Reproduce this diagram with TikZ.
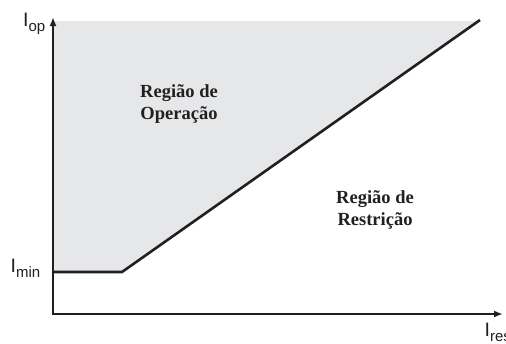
\documentclass[tikz,border=0pt]{standalone}
\usepackage{fontspec}
\setmainfont{Liberation Serif}
\newfontfamily\axfont{Liberation Sans}
\usetikzlibrary{arrows.meta}
\definecolor{regiongray}{HTML}{E6E7E8}
\definecolor{inkdark}{HTML}{231F20}
\newcommand{\axsub}[1]{\raisebox{-5.5pt}{\fontsize{15}{15}\selectfont #1}}
\begin{document}
\begin{tikzpicture}[x=1pt,y=-1pt,
  axisline/.style={line width=2.6pt,draw=inkdark,-{Latex[length=9pt,width=7pt]}},
  curveline/.style={line width=2.6pt,draw=inkdark,line join=miter},
  axlabel/.style={font=\axfont\fontsize{19.5}{22}\selectfont,inner sep=0pt,text=inkdark},
  regionlabel/.style={font=\bfseries\fontsize{18.5}{22}\selectfont,align=center,inner sep=0pt,text=inkdark}]
\useasboundingbox (0,0) rectangle (506,343);
\coordinate (O) at (53,314);
\coordinate (Ytop) at (53,17);
\coordinate (Xend) at (503,314);
\coordinate (Amin) at (53,272);
\coordinate (Knee) at (122,272);
\coordinate (Tend) at (480,20);
\fill[regiongray] (53,21) -- (Amin) -- (Knee) -- (478.5,21) -- cycle;
\draw[curveline] (Amin) -- (Knee) -- (Tend);
\draw[axisline] (53,315.3) -- (Ytop);
\draw[axisline] (51.7,314) -- (Xend);
\node[axlabel,anchor=base west] (lop) at (23,26) {I\axsub{op}};
\node[axlabel,anchor=base west] (lmin) at (10.5,272) {I\axsub{min}};
\node[axlabel,anchor=base west] (lres) at (484.5,336) {I\axsub{res}};
\node[regionlabel] (rop) at (179,104) {Região de\\Operação};
\node[regionlabel] (rres) at (375,210) {Região de\\Restrição};
\end{tikzpicture}
\end{document}
